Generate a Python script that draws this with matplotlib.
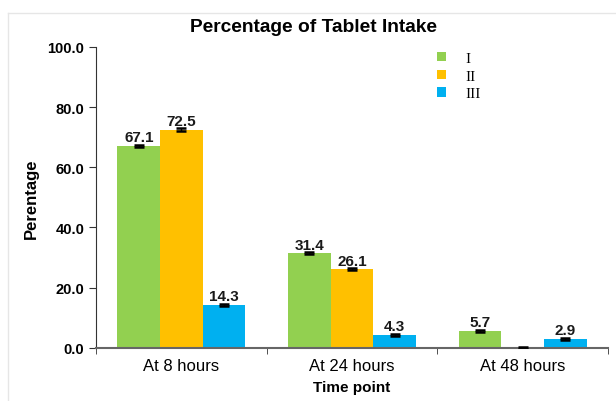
import numpy as np
import matplotlib.pyplot as plt
from matplotlib.ticker import FormatStrFormatter
from matplotlib.lines import Line2D

plt.rcParams['font.family'] = ['Liberation Sans', 'DejaVu Sans']

time_points = ['At 8 hours', 'At 24 hours', 'At 48 hours']
group_names = ['I', 'II', 'III']
values_I = [67.1, 31.4, 5.7]
values_II = [72.5, 26.1, 0.0]
values_III = [14.3, 4.3, 2.9]
errors_I = [0.4, 0.3, 0.3]
errors_II = [0.4, 0.3, 0.3]
errors_III = [0.3, 0.3, 0.3]
colors = ['#92D050', '#FFC000', '#00B0F0']

fig = plt.figure(figsize=(6.16, 4.02), dpi=100)
ax = fig.add_axes([0.156, 0.132, 0.831, 0.749])

# faint outer frame from the screenshot
fig.add_artist(Line2D([8 / 616, 1], [1 - 14 / 402] * 2, color='#e6e6e6', lw=1))
fig.add_artist(Line2D([8 / 616] * 2, [0, 1 - 14 / 402], color='#e6e6e6', lw=1))

x = np.arange(len(time_points))
w = 0.25
series = [values_I, values_II, values_III]
errs = [errors_I, errors_II, errors_III]
for i, (vals, err) in enumerate(zip(series, errs)):
    pos = x + (i - 1) * w
    ax.bar(pos, vals, width=w, color=colors[i], label=group_names[i], zorder=2)
    ax.errorbar(pos, vals, yerr=err, fmt='none', ecolor='black', elinewidth=1,
                capsize=3.5, capthick=1.8, zorder=3)
    for p, v in zip(pos, vals):
        if v > 0:
            ax.text(p, v + 0.6, f'{v:.1f}', ha='center', va='bottom',
                    fontsize=11, fontweight='bold', color='#1a1a1a')

ax.set_xlim(-0.5, 2.5)
ax.set_ylim(0, 100)
ax.set_yticks(np.arange(0, 101, 20))
ax.yaxis.set_major_formatter(FormatStrFormatter('%.1f'))
for lab in ax.get_yticklabels():
    lab.set_fontweight('bold')
ax.tick_params(axis='y', direction='out', length=5, labelsize=10.5, color='#333333')

ax.set_xticks(x)
ax.set_xticklabels(time_points, fontsize=12)
ax.set_xticks([-0.5, 0.5, 1.5, 2.5], minor=True)
ax.tick_params(axis='x', which='major', length=0, pad=7)
ax.tick_params(axis='x', which='minor', length=4, direction='out', color='#333333')

ax.spines['top'].set_visible(False)
ax.spines['right'].set_visible(False)
ax.spines['left'].set_color('#333333')
ax.spines['bottom'].set_color('#666666')
ax.spines['bottom'].set_linewidth(1.5)

fig.text(313 / 616, 1 - 27 / 402, 'Percentage of Tablet Intake', ha='center',
         va='center', fontsize=13.8, fontweight='bold')
ax.set_xlabel('Time point', fontsize=11, fontweight='bold', labelpad=5)
ax.set_ylabel('Perentage', fontsize=12, fontweight='bold', labelpad=6)

leg = ax.legend(loc='upper left', bbox_to_anchor=(0.64, 1.028), frameon=False,
                prop={'family': 'Liberation Serif', 'size': 11},
                handlelength=0.55, handleheight=0.55, handletextpad=1.28,
                labelspacing=0.3)

fig.savefig('out.png', dpi=100)
